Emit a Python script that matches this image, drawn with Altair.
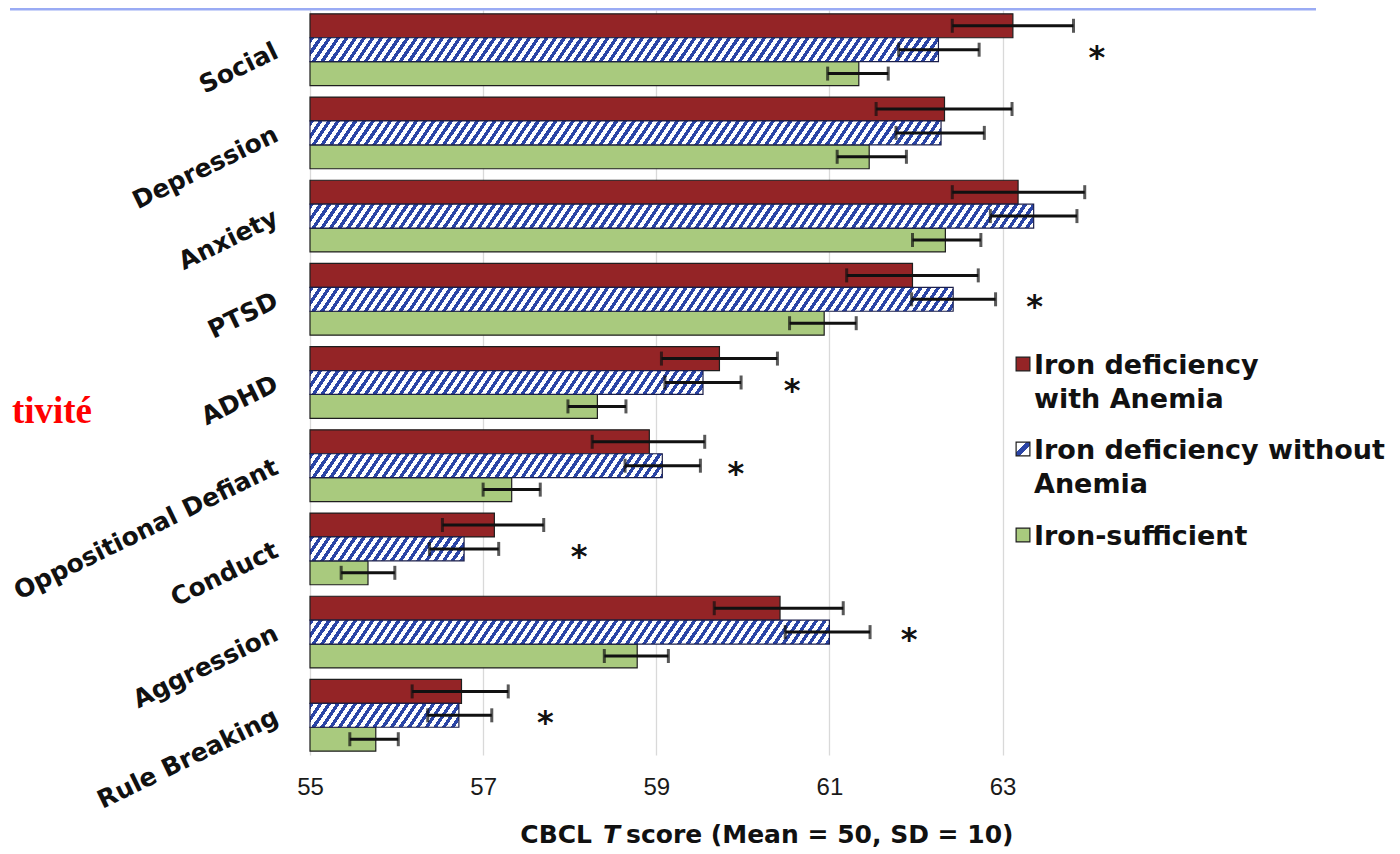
import math
import altair as alt
import pandas as pd

# ---------------- data ----------------
categories = ["Social", "Depression", "Anxiety", "PTSD", "ADHD",
              "Oppositional Defiant", "Conduct", "Aggression", "Rule Breaking"]
groups = ["Iron deficiency with Anemia", "Iron deficiency without Anemia", "Iron-sufficient"]

with_mean = [63.12, 62.33, 63.18, 61.96, 59.73, 58.92, 57.13, 60.43, 56.75]
with_lo = [62.42, 61.54, 62.42, 61.20, 59.06, 58.26, 56.53, 59.67, 56.18]
with_hi = [63.82, 63.11, 63.95, 62.72, 60.40, 59.56, 57.70, 61.16, 57.29]

without_mean = [62.26, 62.29, 63.36, 62.43, 59.54, 59.07, 56.78, 61.00, 56.72]
without_lo = [61.80, 61.77, 62.86, 61.95, 59.10, 58.64, 56.38, 60.49, 56.36]
without_hi = [62.73, 62.79, 63.86, 62.92, 59.98, 59.51, 57.18, 61.47, 57.10]

suff_mean = [61.34, 61.46, 62.34, 60.94, 58.32, 57.33, 55.67, 58.78, 55.76]
suff_lo = [60.98, 61.09, 61.96, 60.54, 57.98, 57.00, 55.36, 58.40, 55.46]
suff_hi = [61.68, 61.89, 62.75, 61.31, 58.65, 57.66, 55.98, 59.14, 56.02]

star_categories = ["Social", "PTSD", "ADHD", "Oppositional Defiant", "Conduct", "Aggression", "Rule Breaking"]
star_x = [64.09, 63.37, 60.57, 59.92, 58.11, 61.92, 57.72]

x_ticks = [55, 57, 59, 61, 63]
legend_lines = [["Iron deficiency", "with Anemia"], ["Iron deficiency without", "Anemia"], ["Iron-sufficient"]]
title_parts = ["CBCL", "T", "score (Mean = 50, SD = 10)"]
side_text = "tivité"

# ---------------- table ----------------
rows = []
series = [(with_mean, with_lo, with_hi), (without_mean, without_lo, without_hi), (suff_mean, suff_lo, suff_hi)]
for i, c in enumerate(categories):
    for g, (m, lo, hi) in zip(groups, series):
        rows.append({"cat": c, "grp": g, "val": m[i], "lo": lo[i], "hi": hi[i]})
df = pd.DataFrame(rows)
stars = pd.DataFrame({"cat": star_categories, "sx": star_x, "grp": groups[1]})

# ---------------- layout / style ----------------
RED = "#942426"
BLUE = "#2b45a6"
GREEN = "#a9ca7e"
OUTLINE = "#1e1e1e"
XMIN, XMAX = 55, 64.6
W, H = 831, 745
P_INNER, P_OUTER = 0.138, 0.046
ppu = W / (XMAX - XMIN)
step = H / (len(categories) - P_INNER + 2 * P_OUTER)
sub_h = step * (1 - P_INNER) / 3

x_scale = alt.Scale(domain=[XMIN, XMAX], nice=False, zero=False)
y_scale = alt.Scale(domain=categories, paddingInner=P_INNER, paddingOuter=P_OUTER)
yo_scale = alt.Scale(domain=groups, paddingInner=0, paddingOuter=0)

x_axis = alt.Axis(values=x_ticks, title=None, grid=True, gridColor="#d9d9d9", gridWidth=1.3,
                  domain=False, ticks=False, labelFont="Liberation Sans", labelFontSize=24,
                  labelColor="#1a1a1a", labelPadding=20, labelFlush=False)
y_axis = alt.Axis(title=None, labelAngle=-26, labelAlign="right", labelBaseline="middle",
                  labelFont="DejaVu Sans", labelFontWeight="bold", labelFontSize=25,
                  labelColor="#111111", labelPadding=34, ticks=False, domain=False,
                  labelLimit=500, labelOverlap=False)


def X(field):
    return alt.X(field, type="quantitative", scale=x_scale, axis=x_axis, stack=None)


Y = alt.Y("cat:N", scale=y_scale, sort=categories, axis=y_axis)
YO = alt.YOffset("grp:N", scale=yo_scale, sort=groups)


def hatch(width_px, height_px, angle_deg=56, period=8.7, frac=0.47):
    a = 1 / math.tan(math.radians(angle_deg))
    total = width_px + a * height_px
    k = total * width_px / (width_px ** 2 + (a * height_px) ** 2)
    stops = []
    j = 0
    while j * period < total:
        s = j * period / total
        e = min((j * period + frac * period) / total, 1)
        n = min((j + 1) * period / total, 1)
        stops += [{"offset": round(s, 5), "color": BLUE}, {"offset": round(e, 5), "color": BLUE},
                  {"offset": round(e, 5), "color": "#ffffff"}, {"offset": round(n, 5), "color": "#ffffff"}]
        j += 1
    return {"gradient": "linear", "x1": 0, "y1": 0, "x2": round(k, 5),
            "y2": round(k * a * height_px / width_px, 5), "stops": stops}


base = alt.Chart(df).transform_calculate(x0=str(XMIN))

# red & green bars
solid_bars = base.transform_filter(
    alt.datum.grp != groups[1]
).mark_bar(stroke=OUTLINE, strokeWidth=1.2).encode(
    x=X("val"), x2="x0:Q", y=Y, yOffset=YO,
    fill=alt.Fill("grp:N", scale=alt.Scale(domain=groups, range=[RED, BLUE, GREEN]), legend=None),
)

# hatched bars (one gradient per bar so the stripes keep their angle)
hatched = []
for i, c in enumerate(categories):
    wpx = (without_mean[i] - XMIN) * ppu
    hatched.append(
        base.transform_filter(
            (alt.datum.grp == groups[1]) & (alt.datum.cat == c)
        ).mark_bar(fill=hatch(wpx, sub_h), stroke="#1b1f4a", strokeWidth=1.2).encode(
            x=X("val"), x2="x0:Q", y=Y, yOffset=YO
        )
    )

err = base.mark_rule(color="#111111", strokeWidth=3).encode(x=X("lo"), x2="hi:Q", y=Y, yOffset=YO)
cap_lo = base.mark_tick(color="#111111", thickness=3, size=14).encode(x=X("lo"), y=Y, yOffset=YO)
cap_hi = base.mark_tick(color="#111111", thickness=3, size=14).encode(x=X("hi"), y=Y, yOffset=YO)

star_layer = alt.Chart(stars).mark_text(
    text="*", font="DejaVu Sans", fontWeight="bold", fontSize=32, color="#111111", dy=8
).encode(x=X("sx"), y=Y, yOffset=YO)

# legend (manual, so that the hatched swatch can be drawn)
sw_x = 713
sw_y = [354, 439, 525]
line_y = [[364, 397.5], [449, 482.5], [534.5]]
legend_hatch = {"gradient": "linear", "x1": 0, "y1": 0, "x2": 1, "y2": 1,
                "stops": [{"offset": 0, "color": "#ffffff"}, {"offset": 0.36, "color": "#ffffff"},
                          {"offset": 0.36, "color": BLUE}, {"offset": 0.64, "color": BLUE},
                          {"offset": 0.64, "color": "#ffffff"}, {"offset": 1, "color": "#ffffff"}]}
swatch_fill = [RED, legend_hatch, GREEN]
legend_layers = []
for k, g in enumerate(groups):
    ldf = pd.DataFrame({"grp": [g]})
    legend_layers.append(
        alt.Chart(ldf).mark_square(size=190, fill=swatch_fill[k], stroke=OUTLINE, strokeWidth=1.2, opacity=1)
        .encode(x=alt.value(sw_x), y=alt.value(sw_y[k]))
    )
    for ln, yy in zip(legend_lines[k], line_y[k]):
        legend_layers.append(
            alt.Chart(ldf).mark_text(text=ln, font="DejaVu Sans", fontWeight="bold", fontSize=27,
                                     color="#111111", align="left", baseline="alphabetic")
            .encode(x=alt.value(724), y=alt.value(yy))
        )

# axis title in three pieces (italic T)
one = pd.DataFrame({"k": [0]})
title_layers = [
    alt.Chart(one).mark_text(text=title_parts[0], font="DejaVu Sans", fontWeight="bold", fontSize=25,
                             color="#111111", align="right", baseline="alphabetic")
    .encode(x=alt.value(282), y=alt.value(833)),
    alt.Chart(one).mark_text(text=title_parts[1], font="DejaVu Sans", fontWeight="bold", fontStyle="italic",
                             fontSize=25, color="#111111", align="left", baseline="alphabetic")
    .encode(x=alt.value(293), y=alt.value(833)),
    alt.Chart(one).mark_text(text=title_parts[2], font="DejaVu Sans", fontWeight="bold", fontSize=25,
                             color="#111111", align="left", baseline="alphabetic")
    .encode(x=alt.value(316), y=alt.value(833)),
]

# slide decorations
top_line = alt.Chart(one).mark_rule(color="#9aabf4", strokeWidth=3).encode(
    x=alt.value(-300), x2=alt.value(1006), y=alt.value(-1)
)
side = alt.Chart(one).mark_text(text=side_text, font="Liberation Serif", fontWeight="bold", fontSize=37,
                                color="#ff0000", align="right", baseline="alphabetic").encode(
    x=alt.value(-218), y=alt.value(413)
)

chart = alt.layer(
    solid_bars, *hatched, err, cap_lo, cap_hi, star_layer, *legend_layers, *title_layers, top_line, side
).properties(
    width=W, height=H,
    padding={"left": 302, "top": 2, "right": 251, "bottom": 93},
    autosize=alt.AutoSizeParams(type="none"),
).configure(background="white", view=alt.ViewConfig(stroke=None, strokeWidth=0))

chart.save("out.html", embed_options={"renderer": "svg", "actions": False})
